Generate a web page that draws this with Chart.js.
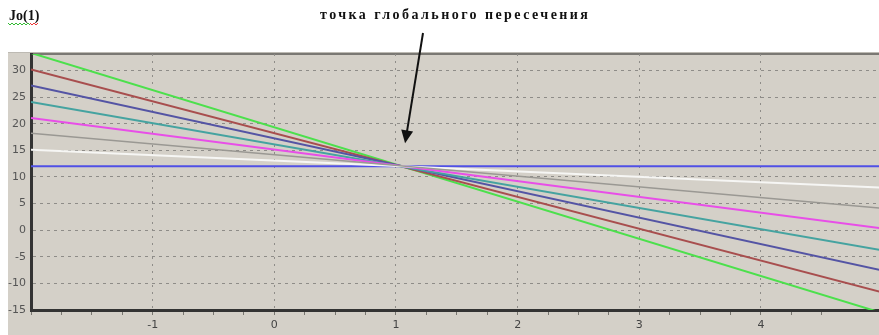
<!DOCTYPE html>
<html>
<head>
<meta charset="utf-8">
<script src="https://cdn.jsdelivr.net/npm/chart.js@4.4.1/dist/chart.umd.min.js"></script>
<style>
    html, body { margin: 0; padding: 0; background: #ffffff; }
    #wrap { width: 879px; height: 335px; position: relative; }
</style>
</head>
<body>
<div id="wrap"><canvas id="chart" width="879" height="335"></canvas></div>
<script>
// Данные графика (значения на краях оси X)
const xPoints = [-2, 5];
const lineBlue = [12, 12];
const lineWhite = [15.1, 8.0];
const lineGray = [18.2, 4.1];
const lineMagenta = [21.1, 0.3];
const lineTeal = [24.1, -3.8];
const lineNavy = [27.2, -7.6];
const lineRed = [30.2, -11.7];
const lineGreen = [33.3, -15.6];
const crossPoint = [1.05, 12];

const titleText = 'точка глобального пересечения';
const cornerText = 'Jo(1)';

function toPoints(values) {
    return xPoints.map((x, i) => ({ x: x, y: values[i] }));
}

function makeSet(values, color, width) {
    return {
        data: toPoints(values),
        borderColor: color,
        borderWidth: width,
        pointRadius: 0,
        fill: false,
        tension: 0
    };
}

function squiggle(ctx, x0, x1, y, color) {
    ctx.strokeStyle = color;
    ctx.lineWidth = 1;
    ctx.beginPath();
    let up = true;
    for (let x = x0; x <= x1; x += 2) {
        ctx.lineTo(x, up ? y : y + 2);
        up = !up;
    }
    ctx.stroke();
}

// Фон панели, рамка, подписи и стрелка
const decorPlugin = {
    id: 'decor',
    beforeDraw(chart) {
        const ctx = chart.ctx;
        const a = chart.chartArea;
        ctx.save();
        ctx.fillStyle = '#ffffff';
        ctx.fillRect(0, 0, chart.width, chart.height);
        ctx.fillStyle = '#d4d0c8';
        ctx.fillRect(8, 52, chart.width - 8, chart.height - 52);
        ctx.fillStyle = '#bdbab3';
        ctx.fillRect(8, 52, chart.width - 8, 1);
        ctx.fillStyle = '#7a7873';
        ctx.fillRect(a.left, a.top - 1, chart.width - a.left, 2);
        ctx.restore();
    },
    afterDraw(chart) {
        const ctx = chart.ctx;
        const xs = chart.scales.x;
        const ys = chart.scales.y;
        ctx.save();

        // заголовок
        ctx.fillStyle = '#111111';
        ctx.font = 'bold 14px "Liberation Serif", serif';
        ctx.textBaseline = 'middle';
        ctx.textAlign = 'left';
        const w = ctx.measureText(titleText).width;
        const extra = Math.max(0, (268 - w) / (titleText.length - 1));
        ctx.letterSpacing = extra.toFixed(2) + 'px';
        ctx.fillText(titleText, 320, 15);
        ctx.letterSpacing = '0px';

        // подпись в углу
        ctx.font = 'bold 14px "Liberation Serif", serif';
        ctx.fillText(cornerText, 9, 16);
        squiggle(ctx, 8, 30, 23, '#33bb33');
        squiggle(ctx, 30, 38, 23, '#ee3333');

        // стрелка к точке пересечения
        const tipX = xs.getPixelForValue(crossPoint[0]) + 3;
        const tipY = ys.getPixelForValue(crossPoint[1]) - 23;
        const startX = 423, startY = 33;
        const ang = Math.atan2(tipY - startY, tipX - startX);
        ctx.strokeStyle = '#111111';
        ctx.lineWidth = 2;
        ctx.beginPath();
        ctx.moveTo(startX, startY);
        ctx.lineTo(tipX - Math.cos(ang) * 10, tipY - Math.sin(ang) * 10);
        ctx.stroke();
        ctx.fillStyle = '#111111';
        ctx.beginPath();
        ctx.moveTo(tipX, tipY);
        ctx.lineTo(tipX - Math.cos(ang) * 13 + Math.sin(ang) * 6, tipY - Math.sin(ang) * 13 - Math.cos(ang) * 6);
        ctx.lineTo(tipX - Math.cos(ang) * 13 - Math.sin(ang) * 6, tipY - Math.sin(ang) * 13 + Math.cos(ang) * 6);
        ctx.closePath();
        ctx.fill();
        ctx.restore();
    }
};

const ctx = document.getElementById('chart').getContext('2d');
new Chart(ctx, {
    type: 'line',
    data: {
        datasets: [
            makeSet(lineGray, '#9a9893', 1.5),
            makeSet(lineWhite, '#f6f6f4', 2),
            makeSet(lineMagenta, '#e84ee8', 2),
            makeSet(lineTeal, '#45a3a0', 2),
            makeSet(lineNavy, '#5454a4', 2),
            makeSet(lineRed, '#a84e4e', 2),
            makeSet(lineGreen, '#4ce04c', 2),
            makeSet(lineBlue, '#5050e6', 2)
        ]
    },
    options: {
        responsive: false,
        animation: false,
        layout: { padding: { top: 54, left: 8, right: 0, bottom: 0 } },
        plugins: {
            legend: { display: false },
            tooltip: { enabled: false }
        },
        scales: {
            x: {
                type: 'linear',
                min: -2,
                max: 4.97,
                afterFit: (scale) => { scale.height = 25; scale.paddingLeft = 0; scale.paddingRight = 0; },
                ticks: {
                    stepSize: 0.25,
                    autoSkip: false,
                    maxRotation: 0,
                    padding: 4,
                    color: '#444444',
                    font: { family: 'DejaVu Sans', size: 11 },
                    callback: (v) => (Number.isInteger(v) && v > -2 && v < 5) ? String(v) : ''
                },
                grid: {
                    color: (c) => (Number.isInteger(c.tick.value) && c.tick.value > -2 && c.tick.value < 5) ? '#8e8c88' : 'rgba(0,0,0,0)',
                    tickColor: '#77756f',
                    tickLength: 5,
                    lineWidth: 1
                },
                border: { color: '#333333', width: 3, dash: [2, 5] }
            },
            y: {
                min: -15,
                max: 33.1,
                afterFit: (scale) => { scale.width = 23; },
                ticks: {
                    stepSize: 5,
                    includeBounds: false,
                    padding: 5,
                    color: '#555555',
                    font: { family: 'DejaVu Sans', size: 11 },
                    callback: (v) => String(v)
                },
                grid: {
                    color: '#8e8c88',
                    drawTicks: false,
                    lineWidth: 1
                },
                border: { color: '#333333', width: 3, dash: [3, 4] }
            }
        }
    },
    plugins: [decorPlugin]
});
</script>
</body>
</html>
